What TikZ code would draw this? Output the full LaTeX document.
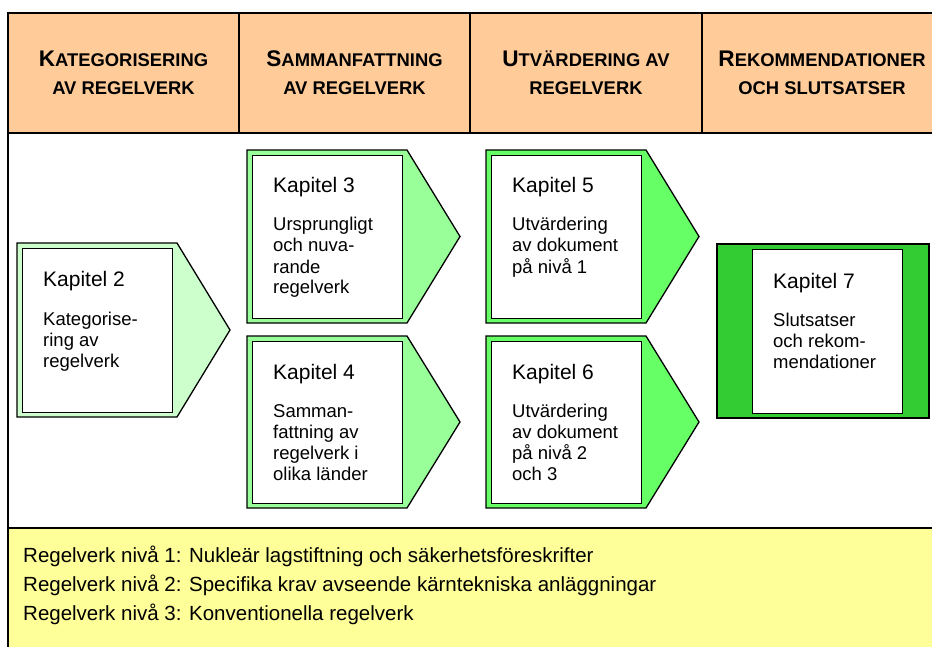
\documentclass[tikz,border=0pt]{standalone}
\usepackage{fontspec}
\setmainfont{Liberation Sans}
\definecolor{peach}{HTML}{FFCC99}
\definecolor{pale}{HTML}{FFFF99}
\definecolor{gA}{HTML}{CCFFCC}
\definecolor{gB}{HTML}{99FF99}
\definecolor{gC}{HTML}{66FF66}
\definecolor{gD}{HTML}{33CC33}
\newcommand\hbig[1]{{\fontsize{22.6}{26}\selectfont #1}}
\newcommand\hsmall[1]{{\fontsize{18.4}{22}\selectfont #1}}
\tikzset{
  frameline/.style={line width=2pt},
  shapeline/.style={line width=1.3pt},
  headtext/.style={anchor=base, inner sep=0pt, font=\bfseries},
  ktitle/.style={anchor=base west, inner sep=0pt, font=\fontsize{21}{25}\selectfont},
  kbody/.style={anchor=base west, inner sep=0pt, font=\fontsize{18.5}{21}\selectfont},
  legend/.style={anchor=base west, inner sep=0pt, font=\fontsize{20.5}{24}\selectfont},
}
\newcommand\arrowshape[5]{% name, fill, L, T, B
  \filldraw[fill=#2, shapeline] (#3,#4) -- ({#3+160},#4) -- ({#3+213},{(#4+#5)/2}) -- ({#3+160},#5) -- (#3,#5) -- cycle;
  \node[draw, shapeline, fill=white, inner sep=0pt, anchor=north west, minimum width=150pt, minimum height={#5-#4-10}] (#1) at ({#3+5},{#4+5}) {};
}
\newcommand\kaptext[5]{% name, x, title baseline, title, lines
  \node[ktitle] (#1t) at (#2,#3) {#4};
  \foreach \ln [count=\i] in {#5} {
    \node[kbody] (#1l\i) at (#2,{#3+17+21*\i}) {\ln};
  }
}
\begin{document}
\begin{tikzpicture}[x=1pt,y=-1pt]
\useasboundingbox (0,0) rectangle (932,647);
\clip (0,0) rectangle (932,647);
% backgrounds
\fill[peach] (8,13) rectangle (945,133);
\fill[pale] (8,528) rectangle (945,655);
% frame lines
\draw[frameline] (8,655) -- (8,13) -- (945,13);
\draw[frameline] (8,133) -- (945,133);
\draw[frameline] (239,13) -- (239,133);
\draw[frameline] (470,13) -- (470,133);
\draw[frameline] (702,13) -- (702,133);
\draw[line width=2.7pt] (8,528) -- (945,528);
% header texts
\node[headtext] (h1a) at (123.5,67) {\hbig{K}\hsmall{ATEGORISERING}};
\node[headtext] (h1b) at (123.5,95) {\hsmall{AV REGELVERK}};
\node[headtext] (h2a) at (354.5,67) {\hbig{S}\hsmall{AMMANFATTNING}};
\node[headtext] (h2b) at (354.5,95) {\hsmall{AV REGELVERK}};
\node[headtext] (h3a) at (586,67) {\hbig{U}\hsmall{TVÄRDERING AV}};
\node[headtext] (h3b) at (586,95) {\hsmall{REGELVERK}};
\node[headtext] (h4a) at (822,67) {\hbig{R}\hsmall{EKOMMENDATIONER}};
\node[headtext] (h4b) at (822,95) {\hsmall{OCH SLUTSATSER}};
% chapter shapes
\arrowshape{k2}{gA}{17}{243}{417}
\arrowshape{k3}{gB}{247}{150}{323}
\arrowshape{k4}{gB}{247}{336}{508}
\arrowshape{k5}{gC}{486}{150}{323}
\arrowshape{k6}{gC}{486}{336}{508}
\filldraw[fill=gD, shapeline] (717,244) rectangle (929,418);
\node[draw, shapeline, fill=white, inner sep=0pt, anchor=north west, minimum width=150pt, minimum height=164pt] (k7) at (752,249) {};
% chapter texts
\kaptext{k2x}{43}{287}{Kapitel 2}{Kategorise-,ring av,regelverk}
\kaptext{k3x}{273}{193}{Kapitel 3}{Ursprungligt,och nuva-,rande,regelverk}
\kaptext{k4x}{273}{379}{Kapitel 4}{Samman-,fattning av,regelverk i,olika länder}
\kaptext{k5x}{512}{193}{Kapitel 5}{Utvärdering,av dokument,på nivå 1}
\kaptext{k6x}{512}{379}{Kapitel 6}{Utvärdering,av dokument,på nivå 2,och 3}
\kaptext{k7x}{773}{288}{Kapitel 7}{Slutsatser,och rekom-,mendationer}
% legend
\node[legend] (r1) at (23,562) {Regelverk nivå 1: Nukleär lagstiftning och säkerhetsföreskrifter};
\node[legend] (r2) at (23,591) {Regelverk nivå 2: Specifika krav avseende kärntekniska anläggningar};
\node[legend] (r3) at (23,620) {Regelverk nivå 3: Konventionella regelverk};
\end{tikzpicture}
\end{document}
